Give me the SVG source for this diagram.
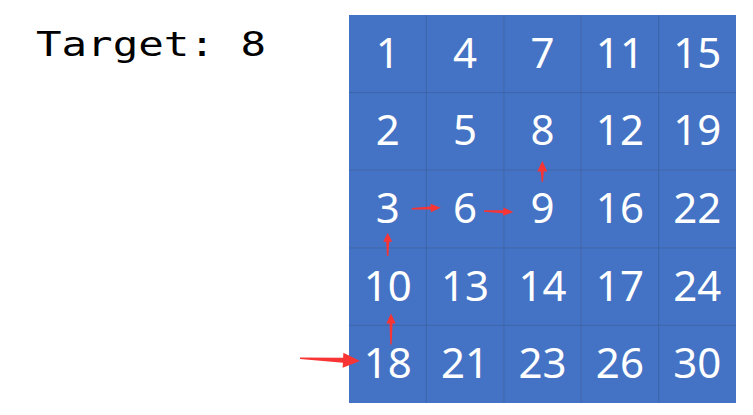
<svg xmlns="http://www.w3.org/2000/svg" width="753" height="415" viewBox="0 0 753 415">
<style>
.cell{fill:#4472C4}
.num{font-family:"Noto Sans","Open Sans",sans-serif;font-size:42px;fill:#FFFFFF;text-anchor:middle}
.grid line{stroke:#3A62A8;stroke-width:1}
.arrow{fill:#F83535}
.title{font-family:"DejaVu Sans Mono",monospace;font-size:34px;fill:#000000}
</style>
<rect width="753" height="415" fill="#FFFFFF"/>
<text id="title" class="title" x="36" y="55.7" textLength="230" lengthAdjust="spacingAndGlyphs">Target: 8</text>
<g id="cell-1"><rect class="cell" x="349" y="15" width="77.4" height="77.6"/><text class="num" x="387.7" y="67.8">1</text></g>
<g id="cell-4"><rect class="cell" x="426.4" y="15" width="77.4" height="77.6"/><text class="num" x="465.1" y="67.8">4</text></g>
<g id="cell-7"><rect class="cell" x="503.8" y="15" width="77.4" height="77.6"/><text class="num" x="542.5" y="67.8">7</text></g>
<g id="cell-11"><rect class="cell" x="581.2" y="15" width="77.4" height="77.6"/><text class="num" x="619.9" y="67.8">11</text></g>
<g id="cell-15"><rect class="cell" x="658.6" y="15" width="77.4" height="77.6"/><text class="num" x="697.3" y="67.8">15</text></g>
<g id="cell-2"><rect class="cell" x="349" y="92.6" width="77.4" height="77.6"/><text class="num" x="387.7" y="145.4">2</text></g>
<g id="cell-5"><rect class="cell" x="426.4" y="92.6" width="77.4" height="77.6"/><text class="num" x="465.1" y="145.4">5</text></g>
<g id="cell-8"><rect class="cell" x="503.8" y="92.6" width="77.4" height="77.6"/><text class="num" x="542.5" y="145.4">8</text></g>
<g id="cell-12"><rect class="cell" x="581.2" y="92.6" width="77.4" height="77.6"/><text class="num" x="619.9" y="145.4">12</text></g>
<g id="cell-19"><rect class="cell" x="658.6" y="92.6" width="77.4" height="77.6"/><text class="num" x="697.3" y="145.4">19</text></g>
<g id="cell-3"><rect class="cell" x="349" y="170.2" width="77.4" height="77.6"/><text class="num" x="387.7" y="223">3</text></g>
<g id="cell-6"><rect class="cell" x="426.4" y="170.2" width="77.4" height="77.6"/><text class="num" x="465.1" y="223">6</text></g>
<g id="cell-9"><rect class="cell" x="503.8" y="170.2" width="77.4" height="77.6"/><text class="num" x="542.5" y="223">9</text></g>
<g id="cell-16"><rect class="cell" x="581.2" y="170.2" width="77.4" height="77.6"/><text class="num" x="619.9" y="223">16</text></g>
<g id="cell-22"><rect class="cell" x="658.6" y="170.2" width="77.4" height="77.6"/><text class="num" x="697.3" y="223">22</text></g>
<g id="cell-10"><rect class="cell" x="349" y="247.8" width="77.4" height="77.6"/><text class="num" x="387.7" y="300.6">10</text></g>
<g id="cell-13"><rect class="cell" x="426.4" y="247.8" width="77.4" height="77.6"/><text class="num" x="465.1" y="300.6">13</text></g>
<g id="cell-14"><rect class="cell" x="503.8" y="247.8" width="77.4" height="77.6"/><text class="num" x="542.5" y="300.6">14</text></g>
<g id="cell-17"><rect class="cell" x="581.2" y="247.8" width="77.4" height="77.6"/><text class="num" x="619.9" y="300.6">17</text></g>
<g id="cell-24"><rect class="cell" x="658.6" y="247.8" width="77.4" height="77.6"/><text class="num" x="697.3" y="300.6">24</text></g>
<g id="cell-18"><rect class="cell" x="349" y="325.4" width="77.4" height="77.6"/><text class="num" x="387.7" y="378.2">18</text></g>
<g id="cell-21"><rect class="cell" x="426.4" y="325.4" width="77.4" height="77.6"/><text class="num" x="465.1" y="378.2">21</text></g>
<g id="cell-23"><rect class="cell" x="503.8" y="325.4" width="77.4" height="77.6"/><text class="num" x="542.5" y="378.2">23</text></g>
<g id="cell-26"><rect class="cell" x="581.2" y="325.4" width="77.4" height="77.6"/><text class="num" x="619.9" y="378.2">26</text></g>
<g id="cell-30"><rect class="cell" x="658.6" y="325.4" width="77.4" height="77.6"/><text class="num" x="697.3" y="378.2">30</text></g>
<g id="grid" class="grid">
<line x1="426.4" y1="15" x2="426.4" y2="403"/>
<line x1="503.8" y1="15" x2="503.8" y2="403"/>
<line x1="581.2" y1="15" x2="581.2" y2="403"/>
<line x1="658.6" y1="15" x2="658.6" y2="403"/>
<line x1="349" y1="92.6" x2="736" y2="92.6"/>
<line x1="349" y1="170.2" x2="736" y2="170.2"/>
<line x1="349" y1="247.8" x2="736" y2="247.8"/>
<line x1="349" y1="325.4" x2="736" y2="325.4"/>
</g>
<g id="connectors">
<polygon class="arrow" transform="translate(360,361) rotate(2.6)" points="-60,-0.7 -17,-2.6 -17,-7.5 0,0 -17,7.5 -17,2.6 -60,0.7"/>
<polygon class="arrow" transform="translate(391,313.5) rotate(-90)" points="-31,-0.7 -10,-1.5 -10,-4.7 0,0 -10,4.7 -10,1.5 -31,0.7"/>
<polygon class="arrow" transform="translate(387.7,232.7) rotate(-90)" points="-23.3,-0.7 -9,-1.5 -9,-4.5 0,0 -9,4.5 -9,1.5 -23.3,0.7"/>
<polygon class="arrow" transform="translate(440.7,207.7) rotate(-2)" points="-29,-0.7 -10,-1.5 -10,-4.2 0,0 -10,4.2 -10,1.5 -29,0.7"/>
<polygon class="arrow" transform="translate(513.3,212) rotate(2)" points="-29.3,-0.7 -10,-1.5 -10,-4.2 0,0 -10,4.2 -10,1.5 -29.3,0.7"/>
<polygon class="arrow" transform="translate(542.3,161) rotate(-90)" points="-20.7,-0.7 -10.5,-1.5 -10.5,-5 0,0 -10.5,5 -10.5,1.5 -20.7,0.7"/>
</g>
</svg>
